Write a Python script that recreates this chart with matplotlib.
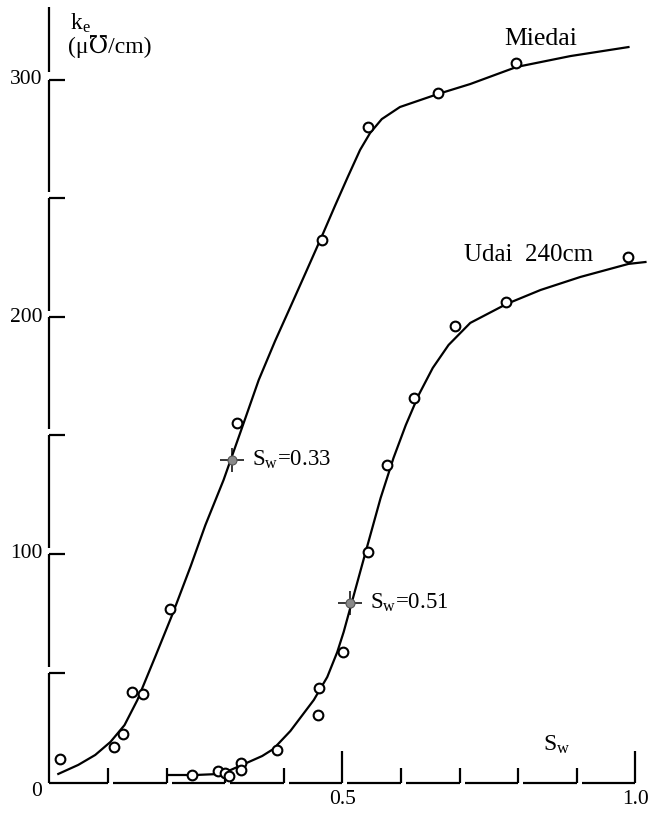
import matplotlib
matplotlib.use("Agg")
import matplotlib.pyplot as plt

plt.rcParams['font.family'] = ['Liberation Serif', 'DejaVu Serif']
plt.rcParams['mathtext.fontset'] = 'custom'
plt.rcParams['mathtext.rm'] = 'Liberation Serif'
plt.rcParams['mathtext.it'] = 'Liberation Serif:italic'

# ---------------- data ----------------
miedai_sw = [0.018, 0.110, 0.126, 0.141, 0.160, 0.206, 0.320, 0.465, 0.544, 0.663, 0.796]
miedai_ke = [13.5, 18.6, 24.1, 41.8, 40.9, 76.8, 155.3, 232.5, 280.2, 294.5, 307.2]

udai_sw = [0.243, 0.288, 0.300, 0.306, 0.327, 0.327, 0.388, 0.458, 0.460, 0.501,
           0.543, 0.576, 0.622, 0.692, 0.779, 0.987]
udai_ke = [6.8, 8.4, 7.6, 6.3, 11.8, 8.9, 17.3, 32.1, 43.5, 58.6,
           100.8, 137.6, 165.8, 196.2, 206.3, 225.3]

miedai_curve_sw = [0.015, 0.049, 0.078, 0.104, 0.128, 0.150, 0.181, 0.210, 0.241, 0.266,
                   0.297, 0.326, 0.357, 0.385, 0.411, 0.437, 0.465, 0.487, 0.509, 0.530,
                   0.547, 0.567, 0.598, 0.663, 0.718, 0.797, 0.889, 0.988]
miedai_curve_ke = [7.2, 11.0, 15.2, 20.7, 27.8, 38.4, 57.0, 74.7, 94.9, 112.2,
                   131.2, 151.5, 173.4, 189.9, 204.2, 218.6, 234.2, 246.8, 259.1, 270.5,
                   277.6, 283.5, 288.6, 294.1, 298.3, 305.5, 310.1, 313.9]

udai_curve_sw = [0.203, 0.249, 0.288, 0.309, 0.340, 0.363, 0.382, 0.411, 0.451, 0.474,
                 0.491, 0.502, 0.517, 0.539, 0.565, 0.587, 0.608, 0.630, 0.654, 0.681,
                 0.718, 0.780, 0.838, 0.906, 0.988, 1.017]
udai_curve_ke = [6.75, 6.75, 7.17, 8.86, 12.24, 14.77, 17.72, 25.3, 38.4, 48.1,
                 58.6, 67.1, 80.6, 100.4, 123.6, 140.5, 154.4, 167.1, 178.5, 188.2,
                 197.5, 205.5, 211.4, 216.9, 222.4, 223.2]

cross_sw = [0.311, 0.513]
cross_ke = [139.7, 79.3]
cross_labels = ["S$_\\mathrm{w}$=0.33", "S$_\\mathrm{w}$=0.51"]

x_ticks = [0.1, 0.2, 0.3, 0.4, 0.5, 0.6, 0.7, 0.8, 0.9, 1.0]
x_major = [0.5, 1.0]
x_ticklabels = {0.5: "0.5", 1.0: "1.0"}
y_ticks = [50, 100, 150, 200, 250, 300]
y_ticklabels = {0: "0", 100: "100", 200: "200", 300: "300"}

# ---------------- figure ----------------
W, H = 655, 813
fig = plt.figure(figsize=(W / 100, H / 100), dpi=100)
X0, XS = 49.5, 586.0     # pixel of Sw=0, pixels per unit Sw
Y0, YS = 791.0, 2.37     # pixel of ke=0, pixels per unit ke
ax = fig.add_axes([0, 0, 1, 1])
ax.set_xlim(-X0 / XS, (W - X0) / XS)
ax.set_ylim(-(H - Y0) / YS, Y0 / YS)
ax.axis('off')

def px(n):  # horizontal pixels -> Sw units
    return n / XS

def py(n):  # vertical pixels -> ke units
    return n / YS

lw_axis = 1.6
base_y = py(8)   # baseline sits slightly above ke=0
top_y = py(Y0 - 7)

# y axis: broken spine with inward ticks at top of each segment
ax.plot([0, 0], [300 + py(8), top_y], color='black', lw=lw_axis, solid_capstyle='butt')
for v in y_ticks:
    lower = v - 50 + py(6) if v > 50 else base_y
    ax.plot([0, 0], [lower, v], color='black', lw=lw_axis, solid_capstyle='butt')
    ax.plot([0, px(16)], [v, v], color='black', lw=lw_axis, solid_capstyle='butt')
for v, t in y_ticklabels.items():
    ax.text(px(-7), v, t, ha='right', va='center', fontsize=15.5)

# x axis: broken baseline with upward ticks at end of each segment
prev = 0.0
for v in x_ticks:
    start = prev + px(5) if prev > 0 else 0.0
    ax.plot([start, v], [base_y, base_y], color='black', lw=lw_axis, solid_capstyle='butt')
    h = py(32) if v in x_major else py(15)
    ax.plot([v, v], [base_y, base_y + h], color='black', lw=lw_axis, solid_capstyle='butt')
    prev = v
for v, t in x_ticklabels.items():
    ax.text(v, py(-8), t, ha='center', va='center', fontsize=15.5)

# curves
ax.plot(miedai_curve_sw, miedai_curve_ke, color='black', lw=1.6, clip_on=False)
ax.plot(udai_curve_sw, udai_curve_ke, color='black', lw=1.6, clip_on=False)

# data circles
ax.plot(miedai_sw, miedai_ke, 'o', ms=7, mfc='white', mec='black', mew=1.5, zorder=3)
ax.plot(udai_sw, udai_ke, 'o', ms=7, mfc='white', mec='black', mew=1.5, zorder=3)

# highlighted points
ax.plot(cross_sw, cross_ke, '+', ms=17, mec='black', mew=1.1, zorder=4)
ax.plot(cross_sw, cross_ke, 'o', ms=6.5, mfc='#8a8a8a', mec='#555555', mew=0.8, zorder=5)
for sx, ky, lab in zip(cross_sw, cross_ke, cross_labels):
    ax.text(sx + px(20), ky, lab, ha='left', va='center', fontsize=16.5)

# labels
ax.text(0.839, py(Y0 - 39), "Miedai", ha='center', va='center', fontsize=18.5)
ax.text(0.817, py(Y0 - 255), "Udai  240cm", ha='center', va='center', fontsize=18)
ax.text(0.866, py(Y0 - 745), "S$_\\mathrm{w}$", ha='center', va='center', fontsize=17)
ax.text(px(70 - X0), py(Y0 - 30), "k$_\\mathrm{e}$", ha='left', va='baseline', fontsize=17)
ax.text(px(68 - X0), py(Y0 - 53), "(μ℧/cm)", ha='left', va='baseline', fontsize=17,
        family=['Liberation Serif', 'DejaVu Serif'])

fig.savefig("out.png", dpi=100, facecolor='white')
